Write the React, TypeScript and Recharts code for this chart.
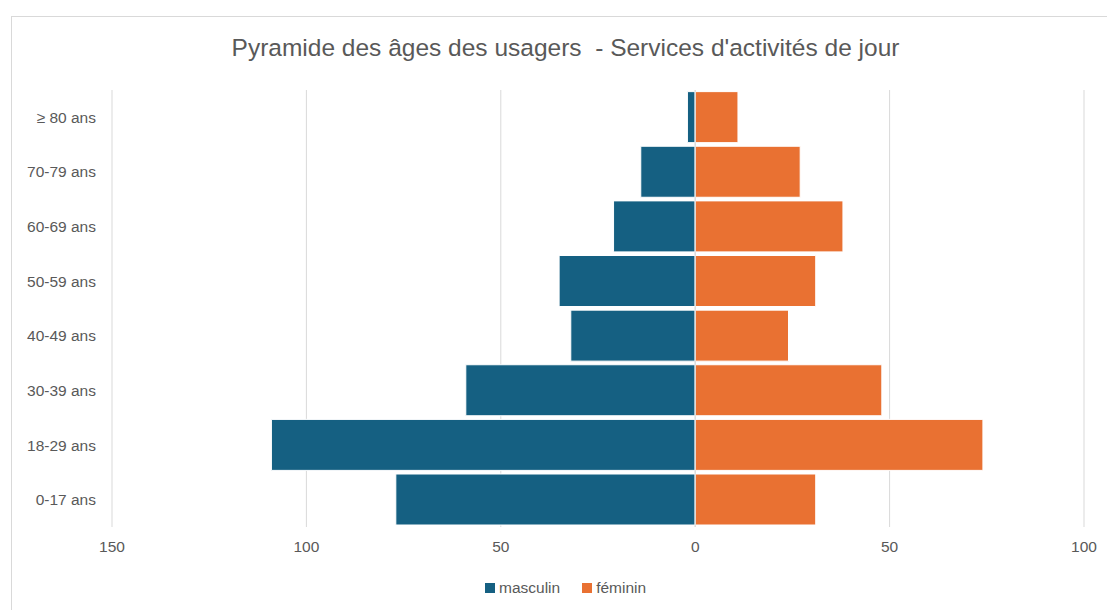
import { BarChart, Bar, XAxis, YAxis, CartesianGrid, Legend, ReferenceLine } from 'recharts';

// age groups, bottom to top
const AGES = ['0-17 ans', '18-29 ans', '30-39 ans', '40-49 ans', '50-59 ans', '60-69 ans', '70-79 ans', '≥ 80 ans'];
const MASCULIN = [77, 109, 59, 32, 35, 21, 14, 2];
const FEMININ = [31, 74, 48, 24, 31, 38, 27, 11];
const X_TICKS = [-150, -100, -50, 0, 50, 100];

const BLUE = '#156082';
const ORANGE = '#E97132';
const TEXT = '#595959';
const FONT = '"Liberation Sans", Lato, sans-serif';

const data = AGES.map((age, i) => ({
  age,
  masculin: -MASCULIN[i],
  feminin: FEMININ[i],
}));

const LegendContent = () => (
  <div style={{ display: 'flex', alignItems: 'center', fontFamily: FONT, fontSize: 15.5, color: TEXT }}>
    <span style={{ width: 10, height: 10, background: BLUE, display: 'inline-block', marginRight: 4 }} />
    <span style={{ marginRight: 22 }}>masculin</span>
    <span style={{ width: 10, height: 10, background: ORANGE, display: 'inline-block', marginRight: 4 }} />
    <span>féminin</span>
  </div>
);

export default function App() {
  return (
    <div style={{ position: 'absolute', left: 0, top: 0, width: 1107, height: 610, background: '#fff', overflow: 'hidden' }}>
      <div
        style={{
          position: 'absolute', left: 11, top: 16, width: 1200, height: 700,
          borderLeft: '1px solid #d9d9d9', borderTop: '1px solid #d9d9d9',
        }}
      />
      <div
        style={{
          position: 'absolute', left: 0, width: 1131, top: 34, textAlign: 'center',
          fontFamily: FONT, fontSize: 24.5, color: TEXT, whiteSpace: 'pre',
        }}
      >
        {'Pyramide des âges des usagers  - Services d\'activités de jour'}
      </div>
      <div style={{ position: 'absolute', left: 0, top: 0 }}>
        <BarChart
          width={1107}
          height={610}
          data={data}
          layout="vertical"
          stackOffset="sign"
          barCategoryGap="3%"
          margin={{ top: 90, right: 23, left: 0, bottom: 35 }}
        >
          <CartesianGrid horizontal={false} stroke="#d9d9d9" />
          <XAxis
            type="number"
            domain={[-150, 100]}
            ticks={X_TICKS}
            tickFormatter={(v: number) => String(Math.abs(v))}
            axisLine={false}
            tickLine={false}
            tickMargin={8}
            height={30}
            tick={{ fill: TEXT, fontSize: 15.5, fontFamily: FONT }}
          />
          <YAxis
            type="category"
            dataKey="age"
            reversed
            axisLine={false}
            tickLine={false}
            width={112}
            tickMargin={10}
            tick={{ fill: TEXT, fontSize: 15.5, fontFamily: FONT }}
          />
          <Bar dataKey="masculin" name="masculin" stackId="a" fill={BLUE} stroke="#ffffff" strokeWidth={1} isAnimationActive={false} />
          <Bar dataKey="feminin" name="féminin" stackId="a" fill={ORANGE} stroke="#ffffff" strokeWidth={1} isAnimationActive={false} />
          <ReferenceLine x={0} stroke="#d9d9d9" />
          <Legend
            verticalAlign="bottom"
            content={<LegendContent />}
            wrapperStyle={{ left: 485, top: 579, width: 'auto' }}
          />
        </BarChart>
      </div>
    </div>
  );
}
